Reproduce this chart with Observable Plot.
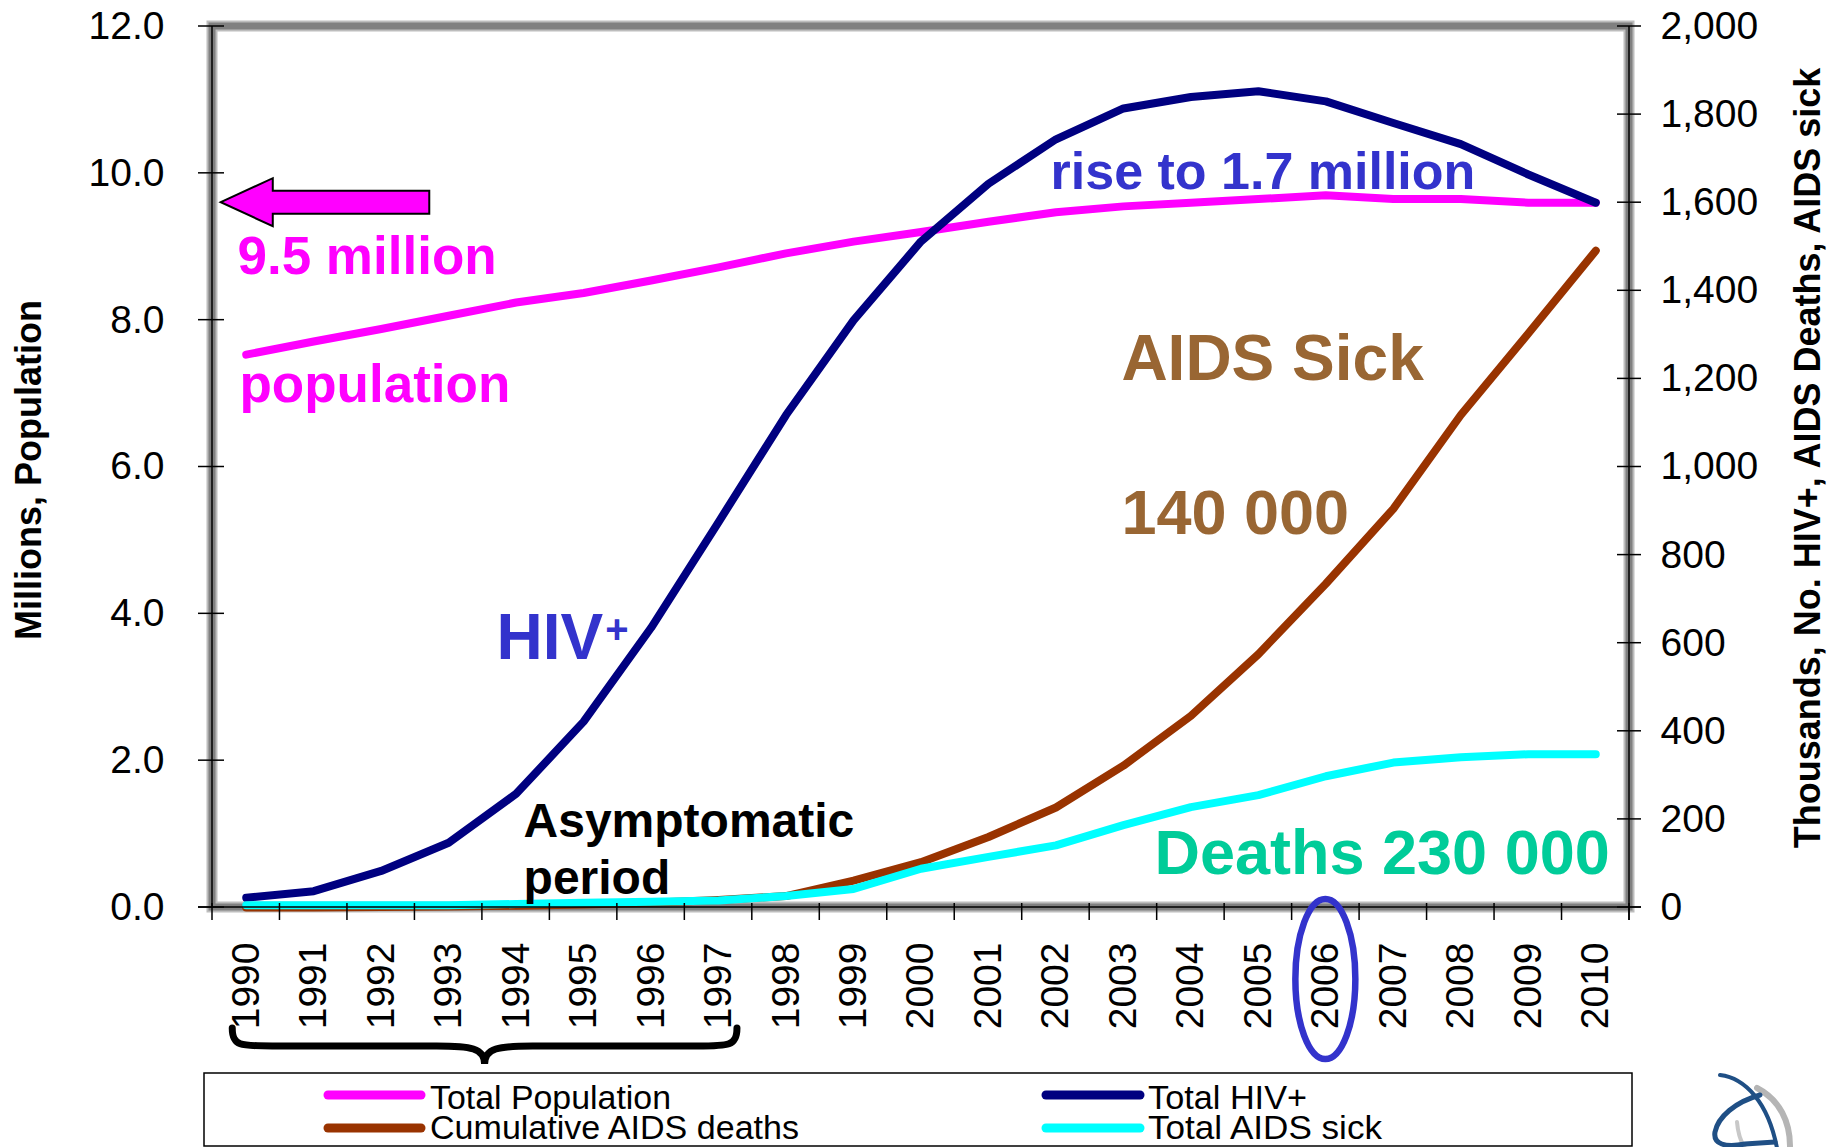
<!DOCTYPE html>
<html>
<head>
<meta charset="utf-8">
<script src="https://cdn.jsdelivr.net/npm/d3@7"></script>
<script src="https://cdn.jsdelivr.net/npm/@observablehq/plot@0.6"></script>
<style>
  html, body { margin: 0; padding: 0; background: #fff; overflow: hidden; }
  #chart svg { display: block; }
</style>
</head>
<body>
<div id="chart"></div>
<script>
// ---------------- data ----------------
const years = [1990, 1991, 1992, 1993, 1994, 1995, 1996, 1997, 1998, 1999, 2000,
               2001, 2002, 2003, 2004, 2005, 2006, 2007, 2008, 2009, 2010];
// millions (left axis)
const population = [7.53, 7.71, 7.88, 8.06, 8.24, 8.37, 8.54, 8.72, 8.91, 9.07, 9.20,
                    9.34, 9.47, 9.55, 9.60, 9.65, 9.70, 9.65, 9.65, 9.60, 9.60];
// thousands (right axis)
const hivPositive = [22, 37, 83, 147, 258, 422, 635, 875, 1118, 1333, 1512,
                     1643, 1744, 1814, 1840, 1853, 1830, 1781, 1733, 1664, 1600];
const aidsDeaths = [0, 0, 1, 2, 4, 7, 11, 17, 26, 61, 103,
                    160, 227, 322, 435, 575, 735, 905, 1118, 1303, 1491];
const aidsSick = [5, 5, 5, 5, 8, 11, 13, 16, 26, 42, 88,
                  115, 141, 187, 228, 255, 298, 329, 341, 348, 348];

const leftTicks = [0, 2, 4, 6, 8, 10, 12];
const rightTicks = [0, 200, 400, 600, 800, 1000, 1200, 1400, 1600, 1800, 2000];

const seriesNames = ["Total Population", "Total HIV+", "Cumulative AIDS deaths", "Total AIDS sick"];
const seriesColors = ["#FF00FF", "#000080", "#993300", "#00FFFF"];
const seriesValues = [population, hivPositive, aidsDeaths, aidsSick];
const seriesAxis = ["left", "right", "right", "right"];

// 2,000 thousand on the right axis == 12 million on the left axis
const K = 12 / 2000;

// annotations (data coordinates: year, millions)
const notes = [
  {text: "9.5 million", x: 1989.87, y: 8.635, color: "#FF00FF", size: 53},
  {text: "population", x: 1989.9, y: 6.89, color: "#FF00FF", size: 53},
  {text: "rise to 1.7 million", x: 2001.92, y: 9.79, color: "#3333CC", size: 52},
  {text: "AIDS Sick", x: 2002.97, y: 7.19, color: "#996633", size: 64},
  {text: "140 000", x: 2002.97, y: 5.09, color: "#996633", size: 63},
  {text: "HIV", x: 1993.71, y: 3.38, color: "#3333CC", size: 64},
  {text: "+", x: 1995.32, y: 3.6, color: "#3333CC", size: 40},
  {text: "Asymptomatic\nperiod", x: 1994.11, y: 0.19, color: "#000000", size: 48},
  {text: "Deaths 230 000", x: 2003.46, y: 0.463, color: "#00CC99", size: 63}
];
const arrowNote = {tip: 1989.63, tail: 1992.72, value: 9.6};
const ellipseNote = {year: 2006};
const braceNote = {from: 1989.8, to: 1997.28};

// ---------------- build ----------------
const rows = [];
seriesNames.forEach((name, s) => {
  years.forEach((yr, i) => {
    const v = seriesValues[s][i];
    rows.push({series: name, year: yr, value: seriesAxis[s] === "left" ? v : v * K});
  });
});

const W = 1844, H = 1072;
const M = {top: 26, right: 215, bottom: 165, left: 212};
const FONT = "'Liberation Sans', Arial, Helvetica, sans-serif";

function frameMark(index, scales, values, dims) {
  const L = dims.marginLeft, R = dims.width - dims.marginRight;
  const T = dims.marginTop, B = dims.height - dims.marginBottom;
  const g = d3.create("svg:g");
  g.append("rect").attr("x", L).attr("y", T).attr("width", R - L).attr("height", B - T)
    .attr("fill", "none").attr("stroke", "#bdbdbd").attr("stroke-width", 11);
  g.append("rect").attr("x", L).attr("y", T).attr("width", R - L).attr("height", B - T)
    .attr("fill", "none").attr("stroke", "#808080").attr("stroke-width", 7);
  return g.node();
}

function tickMarks(index, {x, y}, values, dims) {
  const L = dims.marginLeft, R = dims.width - dims.marginRight;
  const T = dims.marginTop, B = dims.height - dims.marginBottom;
  const g = d3.create("svg:g").attr("stroke", "#000").attr("stroke-width", 1.5).attr("fill", "none");
  g.append("line").attr("x1", L).attr("x2", L).attr("y1", T).attr("y2", B);
  g.append("line").attr("x1", R).attr("x2", R).attr("y1", T).attr("y2", B + 13);
  g.append("line").attr("x1", L - 14).attr("x2", R + 12).attr("y1", B).attr("y2", B);
  for (const v of leftTicks) {
    g.append("line").attr("x1", L - 14).attr("x2", L + 12).attr("y1", y(v)).attr("y2", y(v));
  }
  for (const k of rightTicks) {
    g.append("line").attr("x1", R - 12).attr("x2", R + 12).attr("y1", y(k * K)).attr("y2", y(k * K));
  }
  const bounds = years.map(yr => yr - 0.5).concat([years[years.length - 1] + 0.5]);
  for (const b of bounds) {
    g.append("line").attr("x1", x(b)).attr("x2", x(b)).attr("y1", B - 4).attr("y2", B + 13);
  }
  return g.node();
}

function arrowMark(index, {x, y}) {
  const tx = x(arrowNote.tip), ty = y(arrowNote.value), ex = x(arrowNote.tail);
  const hl = 52, hh = 24, sh = 11.5;
  const pts = [[tx, ty], [tx + hl, ty - hh], [tx + hl, ty - sh], [ex, ty - sh],
               [ex, ty + sh], [tx + hl, ty + sh], [tx + hl, ty + hh]];
  return d3.create("svg:polygon")
    .attr("points", pts.map(p => p.join(",")).join(" "))
    .attr("fill", "#FF00FF").attr("stroke", "#000").attr("stroke-width", 2)
    .attr("stroke-linejoin", "miter").node();
}

function ellipseMark(index, {x}, values, dims) {
  const B = dims.height - dims.marginBottom;
  return d3.create("svg:ellipse")
    .attr("cx", x(ellipseNote.year)).attr("cy", B + 72).attr("rx", 30).attr("ry", 80)
    .attr("fill", "none").attr("stroke", "#3333CC").attr("stroke-width", 6.5).node();
}

function braceMark(index, {x}, values, dims) {
  const B = dims.height - dims.marginBottom;
  const x1 = x(braceNote.from), x2 = x(braceNote.to), xm = (x1 + x2) / 2;
  const yT = B + 121, yB = B + 139, yP = B + 157;
  const d = `M${x1},${yT} C${x1},${yB} ${x1 + 8},${yB} ${x1 + 40},${yB} ` +
            `L${xm - 48},${yB} C${xm - 14},${yB} ${xm},${yB + 2} ${xm},${yP} ` +
            `C${xm},${yB + 2} ${xm + 14},${yB} ${xm + 48},${yB} ` +
            `L${x2 - 40},${yB} C${x2 - 8},${yB} ${x2},${yB} ${x2},${yT}`;
  return d3.create("svg:path").attr("d", d).attr("fill", "none")
    .attr("stroke", "#000").attr("stroke-width", 7).attr("stroke-linecap", "round").node();
}

const marks = [frameMark];
seriesNames.forEach((name, s) => {
  marks.push(Plot.line(rows.filter(r => r.series === name), {
    x: "year", y: "value", stroke: seriesColors[s], strokeWidth: 8,
    strokeLinecap: "round", strokeLinejoin: "round"
  }));
});
marks.push(tickMarks);
marks.push(Plot.axisY(leftTicks, {
  anchor: "left", tickSize: 0, tickPadding: 48, fontSize: 39,
  tickFormat: d3.format(".1f"), label: null
}));
marks.push(Plot.axisY(rightTicks.map(k => k * K), {
  anchor: "right", tickSize: 0, tickPadding: 31, fontSize: 39,
  tickFormat: d => d3.format(",")(Math.round(d / K)), label: null
}));
marks.push(Plot.axisX(years, {
  anchor: "bottom", tickSize: 0, tickPadding: 35, fontSize: 39, tickRotate: -90,
  tickFormat: d => String(d), label: null
}));
marks.push(Plot.text(["Millions, Population"], {
  frameAnchor: "left", dx: -183, dy: 3, rotate: -90, fontSize: 36, fontWeight: "bold",
  textAnchor: "middle", lineAnchor: "middle", fill: "#000"
}));
marks.push(Plot.text(["Thousands, No. HIV+, AIDS Deaths, AIDS sick"], {
  frameAnchor: "right", dx: 179, dy: -9, rotate: -90, fontSize: 36, fontWeight: "bold",
  textAnchor: "middle", lineAnchor: "middle", fill: "#000"
}));
for (const n of notes) {
  marks.push(Plot.text([n], {
    x: "x", y: "y", text: "text", fill: n.color, fontSize: n.size, fontWeight: "bold",
    textAnchor: "start", lineAnchor: "bottom", lineHeight: 1.17
  }));
}
marks.push(arrowMark, ellipseMark, braceMark);

const chart = Plot.plot({
  width: W, height: H,
  marginTop: M.top, marginRight: M.right, marginBottom: M.bottom, marginLeft: M.left,
  x: {type: "linear", domain: [years[0] - 0.5, years[years.length - 1] + 0.5]},
  y: {type: "linear", domain: [0, 12]},
  style: {fontFamily: FONT, fontSize: "39px", color: "#000", background: "#fff", overflow: "visible"},
  marks
});
document.getElementById("chart").appendChild(chart);

// ---------------- legend (below the plot SVG) ----------------
const LH = 1147 - H;
const leg = d3.select("#chart").append("svg")
  .attr("width", W).attr("height", LH)
  .style("display", "block")
  .style("font-family", FONT);
leg.append("rect").attr("x", 204).attr("y", 1).attr("width", 1428).attr("height", LH - 2)
  .attr("fill", "#fff").attr("stroke", "#000").attr("stroke-width", 1.5);
const legPos = [
  {sx: 328, ex: 421, tx: 430, sy: 23, ty: 37, w: 241},
  {sx: 1046, ex: 1140, tx: 1148, sy: 23, ty: 37, w: 159},
  {sx: 328, ex: 421, tx: 430, sy: 56, ty: 67, w: 369},
  {sx: 1046, ex: 1140, tx: 1148, sy: 56, ty: 67, w: 234}
];
seriesNames.forEach((name, s) => {
  const p = legPos[s];
  leg.append("line").attr("x1", p.sx).attr("x2", p.ex).attr("y1", p.sy).attr("y2", p.sy)
    .attr("stroke", seriesColors[s]).attr("stroke-width", 9).attr("stroke-linecap", "round");
  leg.append("text").attr("x", p.tx).attr("y", p.ty).attr("font-size", 33)
    .attr("textLength", p.w).attr("lengthAdjust", "spacingAndGlyphs")
    .attr("fill", "#000").text(name);
});
// small logo (decorative)
const logo = leg.append("g").attr("fill", "none").attr("stroke-linecap", "round");
logo.append("path").attr("d", "M1757,16 C1780,28 1790,50 1790,74").attr("stroke", "#b5b5b5").attr("stroke-width", 6);
logo.append("path").attr("d", "M1737,50 C1738,62 1741,70 1745,76").attr("stroke", "#c8c8c8").attr("stroke-width", 4);
logo.append("path").attr("d", "M1720,3 C1745,6 1768,30 1777,76").attr("stroke", "#1f4f85").attr("stroke-width", 4);
logo.append("path").attr("d", "M1760,23 C1735,30 1718,45 1715,60 C1713,72 1725,76 1745,72 L1775,70").attr("stroke", "#1f4f85").attr("stroke-width", 5);
</script>
</body>
</html>
